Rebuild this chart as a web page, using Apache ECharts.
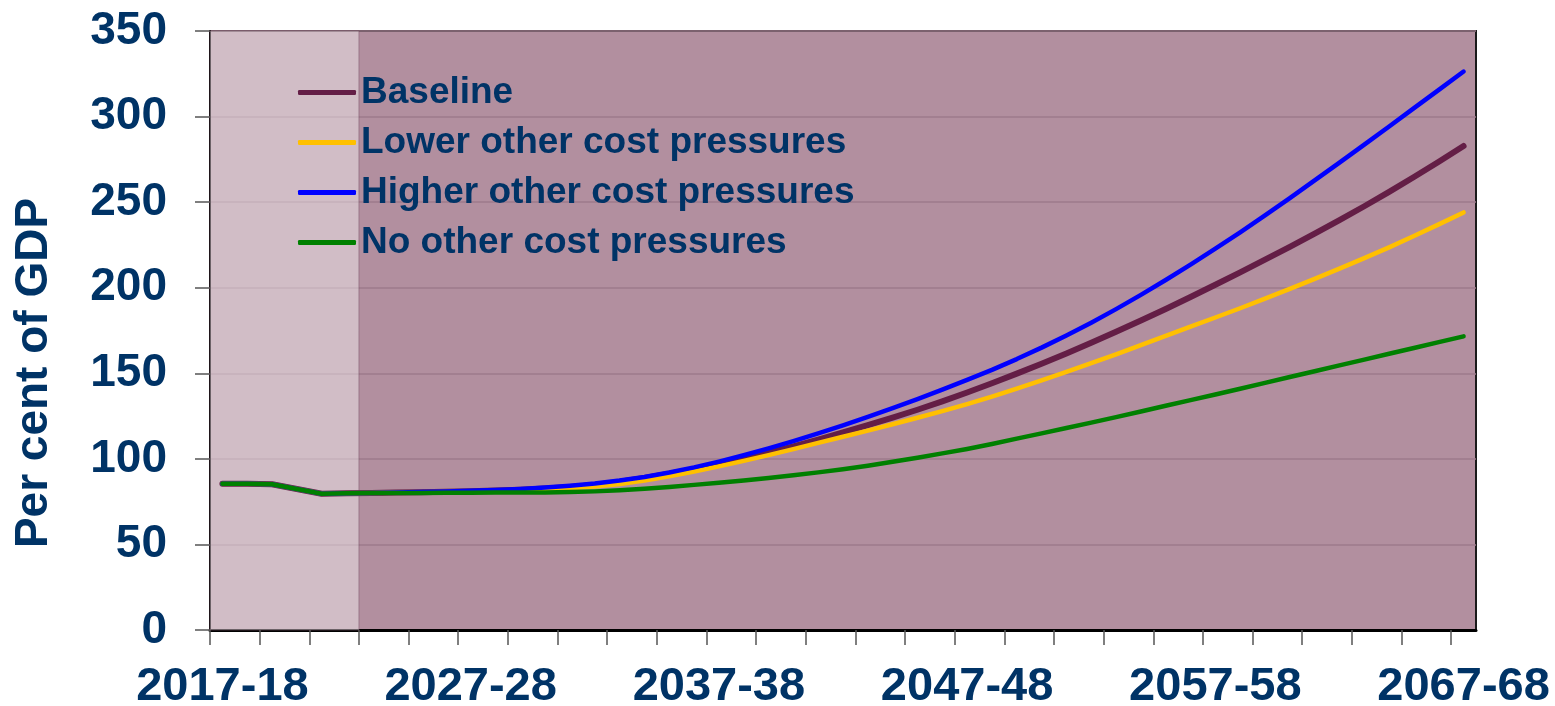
<!DOCTYPE html>
<html>
<head>
<meta charset="utf-8">
<title>Debt projections</title>
<script src="https://cdn.jsdelivr.net/npm/echarts@6/dist/echarts.min.js"></script>
<style>
  html, body { margin: 0; padding: 0; background: #ffffff; }
  #chart { width: 1555px; height: 706px; }
</style>
</head>
<body>
<div id="chart"></div>
<script>
// Financial years 2017-18 to 2067-68
const categories = [];
for (let y = 2017; y <= 2067; y++) {
  categories.push(y + '-' + String((y + 1) % 100).padStart(2, '0'));
}

// Net debt, per cent of GDP
const baseline = [
  85.5, 85.4, 85.2, 82.4, 79.6, 79.9, 80.1, 80.3, 80.5, 80.8,
  81.1, 81.5, 82.0, 82.7, 83.6, 84.8, 86.6, 88.8, 91.3, 94.0,
  97.0, 100.2, 103.6, 107.3, 111.3, 115.5, 119.7, 124.1, 128.7, 133.6,
  138.8, 144.2, 149.8, 155.6, 161.6, 167.8, 174.2, 180.8, 187.6, 194.6,
  201.7, 209.0, 216.4, 223.9, 231.6, 239.5, 247.6, 256.0, 264.7, 273.6,
  282.8
];
const lowerPressures = [
  85.5, 85.4, 85.2, 82.4, 79.6, 79.9, 80.1, 80.3, 80.5, 80.7,
  80.9, 81.2, 81.6, 82.1, 82.8, 83.8, 85.3, 87.3, 89.8, 92.6,
  95.6, 98.8, 102.2, 105.7, 109.3, 112.9, 116.5, 120.2, 124.0, 127.9,
  132.0, 136.4, 141.0, 145.8, 150.8, 155.9, 161.1, 166.4, 171.8, 177.3,
  182.6, 188.0, 193.6, 199.3, 205.2, 211.2, 217.3, 223.6, 230.2, 237.0,
  244.0
];
const higherPressures = [
  85.5, 85.4, 85.2, 82.4, 79.6, 79.9, 80.1, 80.3, 80.6, 80.9,
  81.3, 81.8, 82.4, 83.2, 84.3, 85.6, 87.3, 89.4, 92.0, 95.0,
  98.4, 102.1, 106.1, 110.4, 114.9, 119.6, 124.5, 129.6, 134.9, 140.4,
  146.1, 152.0, 158.3, 165.0, 172.1, 179.6, 187.5, 195.8, 204.5, 213.5,
  222.8, 232.4, 242.3, 252.4, 262.7, 273.1, 283.6, 294.2, 304.9, 315.6,
  326.3
];
const noPressures = [
  85.5, 85.4, 85.2, 82.4, 79.6, 79.9, 80.0, 80.1, 80.1, 80.2,
  80.2, 80.3, 80.3, 80.4, 80.6, 81.0, 81.6, 82.5, 83.6, 84.8,
  86.0, 87.4, 88.8, 90.4, 92.1, 93.9, 96.0, 98.3, 100.7, 103.2,
  105.8, 108.7, 111.8, 114.9, 118.0, 121.2, 124.4, 127.7, 131.0, 134.3,
  137.6, 141.0, 144.4, 147.8, 151.2, 154.6, 158.0, 161.4, 164.8, 168.2,
  171.6
];

const seriesNames = [
  'Baseline',
  'Lower other cost pressures',
  'Higher other cost pressures',
  'No other cost pressures'
];

// Years already past (actuals) are shaded lighter
const actualYears = 6;

const yTicks = [0, 50, 100, 150, 200, 250, 300, 350];
const xTickEvery = 2;
const xLabelEvery = 10;

const navy = '#003366';
const font = '"Liberation Sans", Arial, sans-serif';

// each year sits in the middle of its slot on a continuous axis
const toPoints = arr => arr.map((v, i) => [i + 0.5, v]);

const tickValues = [];
for (let i = 0; i < categories.length; i += xTickEvery) tickValues.push(i);
const labelValues = [];
for (let i = 0; i < categories.length; i += xLabelEvery) labelValues.push(i + 0.5);

const chart = echarts.init(document.getElementById('chart'), null, { renderer: 'canvas' });

const lineSeries = (name, data, color, width, z) => ({
  name: name,
  type: 'line',
  data: toPoints(data),
  symbol: 'none',
  showSymbol: false,
  z: z,
  lineStyle: { color: color, width: width, cap: 'round', join: 'round' },
  itemStyle: { color: color },
  animation: false
});

const option = {
  animation: false,
  grid: {
    left: 210, right: 79, top: 31, bottom: 76,
    outerBoundsMode: 'none',
    containLabel: false,
    show: true,
    backgroundColor: '#b28f9f',
    borderColor: '#1a1a1a',
    borderWidth: 2
  },
  legend: {
    orient: 'vertical',
    left: 293,
    top: 69,
    icon: 'roundRect',
    itemWidth: 58,
    itemHeight: 5,
    itemGap: 13,
    data: seriesNames,
    textStyle: {
      color: navy,
      fontFamily: font,
      fontWeight: 'bold',
      fontSize: 37,
      lineHeight: 37
    }
  },
  xAxis: {
    type: 'value',
    min: 0,
    max: categories.length,
    interval: xTickEvery,
    axisLine: { show: true, onZero: false, lineStyle: { color: '#000000', width: 3 } },
    axisTick: {
      show: true, inside: false, length: 15,
      customValues: tickValues,
      lineStyle: { color: '#555555', width: 1.5 }
    },
    axisLabel: {
      customValues: labelValues,
      formatter: v => categories[Math.floor(v)] || '',
      color: navy,
      fontFamily: font,
      fontWeight: 'bold',
      fontSize: 47,
      margin: 34
    },
    splitLine: { show: false }
  },
  yAxis: {
    type: 'value',
    min: yTicks[0],
    max: yTicks[yTicks.length - 1],
    interval: 50,
    axisLine: { show: true, lineStyle: { color: '#000000', width: 2 } },
    axisTick: { show: true, inside: false, length: 15, lineStyle: { color: '#555555', width: 1.5 } },
    axisLabel: {
      color: navy,
      fontFamily: font,
      fontWeight: 'bold',
      fontSize: 46,
      margin: 43
    },
    splitLine: { show: true, lineStyle: { color: '#9d7a8b', width: 1.5 } }
  },
  graphic: [{
    type: 'text',
    x: 34,
    y: 373,
    rotation: Math.PI / 2,
    style: {
      text: 'Per cent of GDP',
      fill: navy,
      font: 'bold 46px ' + font,
      textAlign: 'center',
      textVerticalAlign: 'middle'
    }
  }],
  series: [
    Object.assign(lineSeries(seriesNames[0], baseline, '#641e46', 6, 3), {
      markArea: {
        silent: true,
        itemStyle: { color: 'rgba(255,255,255,0.41)', borderColor: 'rgba(120,80,100,0.5)', borderWidth: 1 },
        data: [[{ xAxis: 0 }, { xAxis: actualYears }]]
      }
    }),
    lineSeries(seriesNames[1], lowerPressures, '#ffc000', 4.5, 4),
    lineSeries(seriesNames[2], higherPressures, '#0000ff', 4.5, 5),
    lineSeries(seriesNames[3], noPressures, '#008000', 4.5, 6)
  ]
};

chart.setOption(option);
</script>
</body>
</html>
